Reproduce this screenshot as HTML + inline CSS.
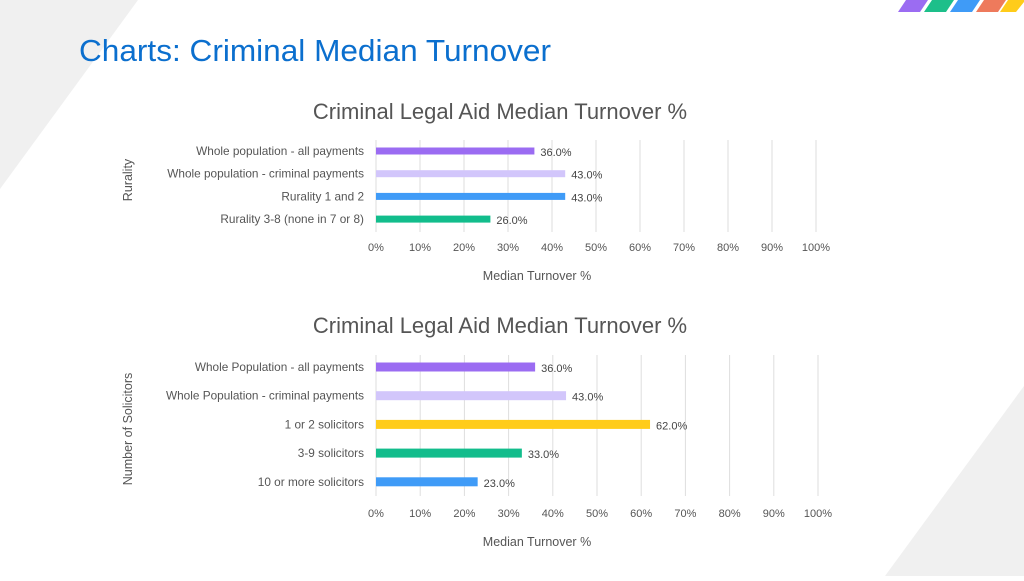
<!DOCTYPE html>
<html><head><meta charset="utf-8"><style>
body{margin:0;width:1024px;height:576px;overflow:hidden;background:#fff;font-family:"Liberation Sans",sans-serif}
svg text{font-family:"Liberation Sans",sans-serif}
</style></head><body>
<svg id="s" width="1024" height="576" viewBox="0 0 1024 576" xmlns="http://www.w3.org/2000/svg">
<polygon points="0,0 138,0 0,189" fill="#f0f0f0"/>
<polygon points="885,576 1024,386 1024,576" fill="#f0f0f0"/>
<g>
<polygon points="906,0 928,0 920,12 898,12" fill="#9b6cf2"/>
<polygon points="932,0 954,0 946,12 924,12" fill="#1dbf8a"/>
<polygon points="958,0 980,0 972,12 950,12" fill="#3f9bf7"/>
<polygon points="984,0 1006,0 998,12 976,12" fill="#ee7a5c"/>
<polygon points="1008,0 1024,0 1024,2 1016,12 1000,12" fill="#ffcc1a"/>
</g>
<text x="79" y="61" font-size="31" fill="#0b6fce" textLength="472" lengthAdjust="spacingAndGlyphs">Charts: Criminal Median Turnover</text>
<g id="c1"></g>
<g id="c2"></g>
</svg>
<script>
const ticks=["0%","10%","20%","30%","40%","50%","60%","70%","80%","90%","100%"];
const tickVals=[0,10,20,30,40,50,60,70,80,90,100];
const cats1=["Whole population - all payments","Whole population - criminal payments","Rurality 1 and 2","Rurality 3-8 (none in 7 or 8)"];
const vals1=[36,43,43,26];
const cols1=["#9b6cf2","#d2c6fb","#3f9bf7","#12bd8c"];
const cats2=["Whole Population - all payments","Whole Population - criminal payments","1 or 2 solicitors","3-9 solicitors","10 or more solicitors"];
const vals2=[36,43,62,33,23];
const cols2=["#9b6cf2","#d2c6fb","#ffcc1a","#12bd8c","#3f9bf7"];
const NS="http://www.w3.org/2000/svg";
function mk(g,tag,a,t){const e=document.createElementNS(NS,tag);for(const k in a)e.setAttribute(k,a[k]);if(t!==undefined)e.textContent=t;g.appendChild(e);return e;}
function chart(id,cfg){
 const g=document.getElementById(id);
 const x=v=>cfg.x0+(cfg.x1-cfg.x0)*v/100;
 const y=i=>cfg.y0+i*cfg.step;
 let t=mk(g,'text',{x:500,y:cfg.titleY,'font-size':22,fill:'#555','text-anchor':'middle'},'Criminal Legal Aid Median Turnover %');
 
 
 tickVals.forEach((v,i)=>{
  let l=mk(g,'line',{x1:x(v),x2:x(v),y1:cfg.gTop,y2:cfg.gBot,stroke:'#dedede','stroke-width':1});
  
  
  let tt=mk(g,'text',{x:x(v),y:cfg.tickY,'font-size':11,fill:'#555','text-anchor':'middle'},ticks[i]);
  
  
 });
 cfg.cats.forEach((c,i)=>{
  let lb=mk(g,'text',{x:364,y:y(i)+4,'font-size':11.8,fill:'#555','text-anchor':'end'},c);
  
  
  let b=mk(g,'rect',{x:x(0),y:y(i)-cfg.bh/2,width:x(cfg.vals[i])-x(0),height:cfg.bh,fill:cfg.cols[i]});
  
  
  let vl=mk(g,'text',{x:x(cfg.vals[i])+6,y:y(i)+5,'font-size':11,fill:'#444'},cfg.vals[i].toFixed(1)+'%');
  
  
 });
 let xt=mk(g,'text',{x:537,y:cfg.xTitleY,'font-size':12.5,fill:'#555','text-anchor':'middle'},'Median Turnover %');
 
 
 let yt=mk(g,'text',{x:0,y:0,'font-size':12.5,fill:'#555','text-anchor':'middle',transform:`translate(132,${cfg.yTitleY}) rotate(-90)`},cfg.yTitle);
 
 
}
chart('c1',{x0:376,x1:816,y0:151,step:22.7,bh:7,gTop:140,gBot:232,tickY:251,titleY:119,xTitleY:280,yTitle:'Rurality',yTitleY:180,cats:cats1,vals:vals1,cols:cols1});
chart('c2',{x0:376,x1:818,y0:367,step:28.7,bh:9,gTop:355,gBot:496,tickY:517,titleY:333,xTitleY:546,yTitle:'Number of Solicitors',yTitleY:429,cats:cats2,vals:vals2,cols:cols2});
</script>
</body></html>
